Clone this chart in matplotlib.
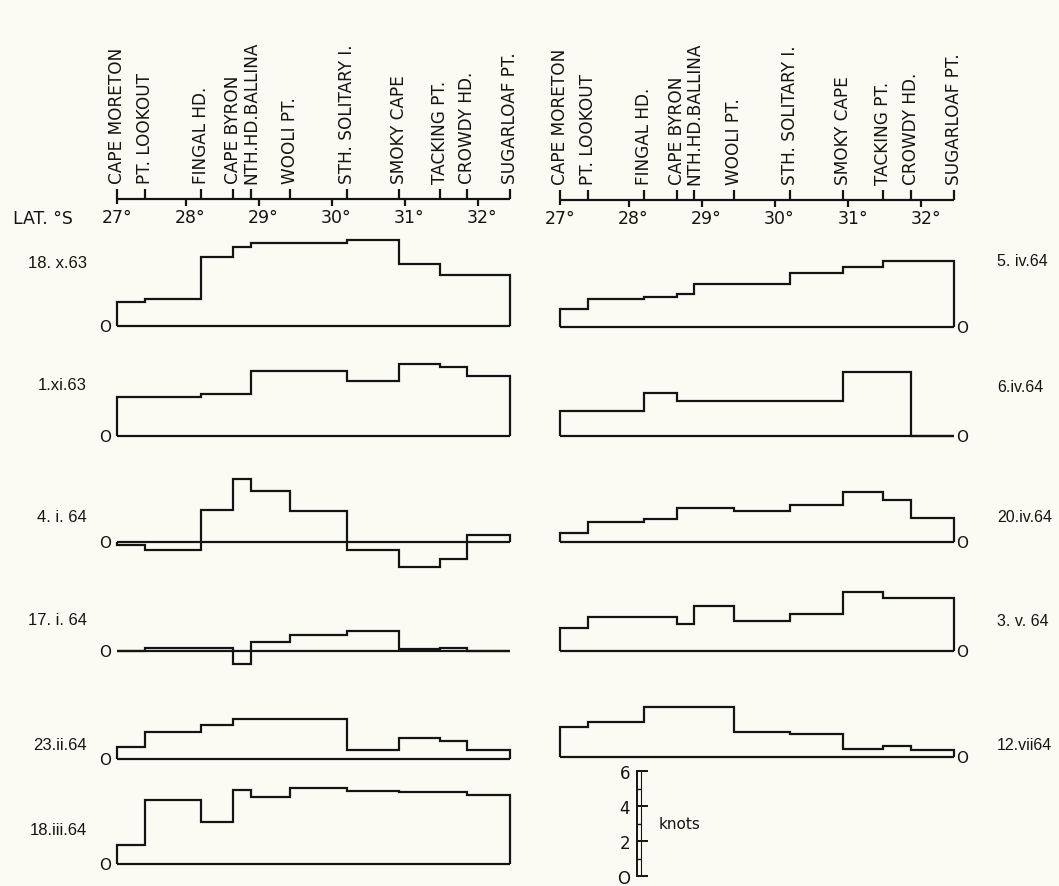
import matplotlib
matplotlib.use("Agg")
import matplotlib.pyplot as plt
from matplotlib import transforms

# ---------------- data ----------------
locations = ["CAPE MORETON", "PT. LOOKOUT", "FINGAL HD.", "CAPE BYRON",
             "NTH.HD.BALLINA", "WOOLI PT.", "STH. SOLITARY I.", "SMOKY CAPE",
             "TACKING PT.", "CROWDY HD.", "SUGARLOAF PT."]
location_lat = [27.05, 27.44, 28.21, 28.65, 28.89, 29.43, 30.20, 30.92,
                31.48, 31.85, 32.44]
degree_ticks = [27, 28, 29, 30, 31, 32]

# current speed (knots) for each coastal section between successive locations
left_dates = ["18. x.63", "1.xi.63", "4. i. 64", "17. i. 64", "23.ii.64", "18.iii.64"]
s_18x63 = [1.39, 1.57, 3.94, 4.51, 4.73, 4.73, 4.94, 3.57, 2.91, 2.91]
s_1xi63 = [2.25, 2.25, 2.42, 2.42, 3.71, 3.71, 3.14, 4.10, 3.93, 3.41]
s_4i64 = [-0.19, -0.44, 1.81, 3.62, 2.89, 1.79, -0.44, -1.45, -0.95, 0.42]
s_17i64 = [0.0, 0.19, 0.19, -0.76, 0.51, 0.90, 1.14, 0.10, 0.19, 0.0]
s_23ii64 = [0.67, 1.56, 1.94, 2.29, 2.29, 2.29, 0.51, 1.22, 1.03, 0.51]
s_18iii64 = [1.09, 3.66, 2.38, 4.23, 3.81, 4.32, 4.19, 4.10, 4.10, 3.94]

right_dates = ["5. iv.64", "6.iv.64", "20.iv.64", "3. v. 64", "12.vii64"]
s_5iv64 = [1.01, 1.58, 1.71, 1.87, 2.48, 2.48, 3.10, 3.45, 3.77, 3.77]
s_6iv64 = [1.45, 1.45, 2.44, 2.02, 2.02, 2.02, 2.02, 3.64, 3.64, 0.0]
s_20iv64 = [0.50, 1.14, 1.34, 1.94, 1.94, 1.79, 2.10, 2.88, 2.38, 1.35]
s_3v64 = [1.34, 1.97, 1.97, 1.55, 2.57, 1.71, 2.10, 3.39, 3.01, 3.01]
s_12vii64 = [1.74, 2.00, 2.86, 2.86, 2.86, 1.45, 1.30, 0.48, 0.63, 0.40]

left_series = [s_18x63, s_1xi63, s_4i64, s_17i64, s_23ii64, s_18iii64]
right_series = [s_5iv64, s_6iv64, s_20iv64, s_3v64, s_12vii64]

scale_ticks = [0, 2, 4, 6]
scale_labels = ["O", "2", "4", "6"]

# ---------------- layout ----------------
W, H = 1059, 887
BG = "#fbfbf4"
INK = "#141414"
LW = 1.6
plt.rcParams["font.family"] = ["DejaVu Sans"]
DATE_FONT = ["Liberation Sans", "DejaVu Sans"]

cols = {"left": dict(origin=113.0, ppd=73.0, axis_y=200),
        "right": dict(origin=556.0, ppd=73.1, axis_y=201)}
XLIM = (26.5, 32.9)
KPX = 17.5          # pixels per knot
YLIM = (-2.5, 6.5)

left_base = [327, 437, 543, 652, 760, 865]
left_label_y = [263, 385, 517, 621, 745, 831]
right_base = [328, 437, 543, 652, 758]
right_label_y = [261, 388, 518, 622, 745]

fig = plt.figure(figsize=(W / 100, H / 100), dpi=100, facecolor=BG)


def px_axes(x0, x1, y0, y1):
    ax = fig.add_axes([x0 / W, 1 - y1 / H, (x1 - x0) / W, (y1 - y0) / H])
    ax.patch.set_alpha(0)
    return ax


def col_x(col):
    c = cols[col]
    return c["origin"] + (XLIM[0] - 27) * c["ppd"], c["origin"] + (XLIM[1] - 27) * c["ppd"]


def header(col):
    x0, x1 = col_x(col)
    ay = cols[col]["axis_y"]
    ax = px_axes(x0, x1, 0, 240)
    ax.set_xlim(XLIM)
    ax.set_ylim(240, 0)
    ax.axis("off")
    ax.hlines(ay, location_lat[0], location_lat[-1], color=INK, lw=LW)
    ax.vlines(location_lat, ay - 10, ay, color=INK, lw=LW)
    ax.vlines([location_lat[0]], ay, ay + 5, color=INK, lw=LW)
    ax.vlines(degree_ticks[1:], ay, ay + 7, color=INK, lw=LW)
    for lat, name in zip(location_lat, locations):
        ax.text(lat, ay - 16, name, rotation=90, ha="center", va="bottom",
                fontsize=12.2, color=INK)
    off = transforms.offset_copy(ax.transData, fig=fig, x=3, y=0, units="points")
    for d in degree_ticks:
        ax.text(d, ay + 9, f"{d}°", ha="center", va="top", fontsize=12.5,
                color=INK, transform=off)


def series(col, base, vals, side):
    x0, x1 = col_x(col)
    ax = px_axes(x0, x1, base - YLIM[1] * KPX, base - YLIM[0] * KPX)
    ax.set_xlim(XLIM)
    ax.set_ylim(YLIM)
    ax.axis("off")
    ax.hlines(0, location_lat[0], location_lat[-1], color=INK, lw=LW)
    st = ax.stairs(vals, location_lat, baseline=0, fill=False, color=INK, lw=LW)
    st.set_joinstyle("miter")
    if side == "left":
        ax.annotate("O", xy=(location_lat[0], 0), xytext=(-8.5, -0.5),
                    textcoords="offset points", ha="center", va="center",
                    fontsize=11, color=INK)
    else:
        ax.annotate("O", xy=(location_lat[-1], 0), xytext=(6, -0.5),
                    textcoords="offset points", ha="center", va="center",
                    fontsize=11, color=INK)


header("left")
header("right")
fig.text(13 / W, 1 - 219 / H, "LAT. °S", ha="left", va="center", fontsize=12.5, color=INK)

for base, ly, vals, lab in zip(left_base, left_label_y, left_series, left_dates):
    series("left", base, vals, "left")
    fig.text(87 / W, 1 - ly / H, lab, ha="right", va="center", fontsize=12,
             color=INK, family=DATE_FONT)

for base, ly, vals, lab in zip(right_base, right_label_y, right_series, right_dates):
    series("right", base, vals, "right")
    fig.text(997 / W, 1 - ly / H, lab, ha="left", va="center", fontsize=11.5,
             color=INK, family=DATE_FONT)

# scale bar
sx = 637
sax = px_axes(sx, sx + 90, 877 - 6 * KPX, 877)
sax.set_xlim(0, 1)
sax.set_ylim(0, 6)
for s in ["top", "right", "bottom"]:
    sax.spines[s].set_visible(False)
sax.spines["left"].set_linewidth(1.4)
sax.spines["left"].set_color(INK)
sax.set_xticks([])
sax.set_yticks(scale_ticks)
sax.set_yticklabels(scale_labels)
sax.set_yticks([1, 3, 5], minor=True)
sax.tick_params(axis="y", which="major", direction="in", length=8, width=1.4,
                pad=5, labelsize=12, colors=INK)
sax.tick_params(axis="y", which="minor", direction="in", length=3, width=1.0, colors=INK)
sax.axvline(3.5 / 90, color=INK, lw=0.8)
sax.text(0.24, 3, "knots", ha="left", va="center", fontsize=11, color=INK)

fig.savefig("out.png", dpi=100, facecolor=BG)
